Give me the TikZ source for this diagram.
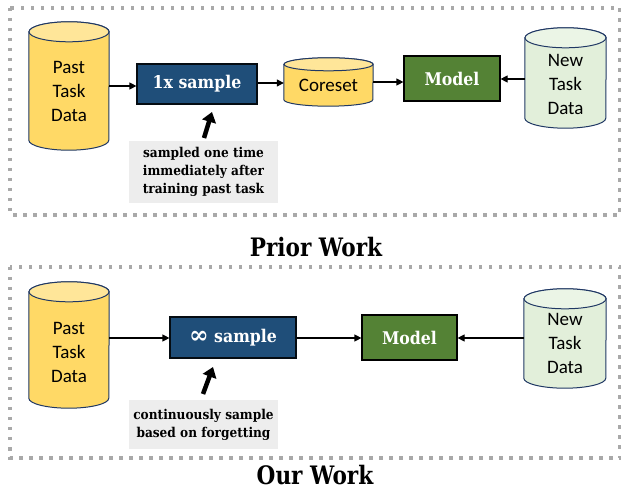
\documentclass[tikz,border=0pt]{standalone}
\usepackage{fontspec}
\setmainfont{Carlito}
\newfontfamily\sbf{DejaVu Serif}[FakeStretch=0.9]
\newfontfamily\tbf{DejaVu Serif}[FakeStretch=0.85]
\usetikzlibrary{arrows.meta}
\definecolor{ybody}{HTML}{FFD966}
\definecolor{ytop}{HTML}{FFE699}
\definecolor{cylborder}{HTML}{203864}
\definecolor{gbody}{HTML}{E2EFDA}
\definecolor{gtop}{HTML}{EBF5E6}
\definecolor{bluebox}{HTML}{1F4E79}
\definecolor{greenbox}{HTML}{548235}
\definecolor{dotgray}{HTML}{A9A9A9}
\definecolor{labelbg}{HTML}{EDEDED}
\newcommand\dbcyl[5]{% name, half width, ry, body, top
  \path[fill=#4, draw=cylborder, line width=1pt]
    ([yshift=-#3]#1.north west) -- ([yshift=#3]#1.south west)
    arc[start angle=180, end angle=360, x radius=#2, y radius=#3]
    -- ([yshift=-#3]#1.north east)
    arc[start angle=0, end angle=180, x radius=#2, y radius=#3] -- cycle;
  \path[fill=#5, draw=cylborder, line width=1pt]
    ([yshift=-#3]#1.north) ellipse[x radius=#2, y radius=#3];
}
\tikzset{
  x=1pt, y=1pt,
  cylbox/.style={inner sep=0pt, minimum width=#1},
  cyltext/.style={align=center, font=\fontsize{19}{24}\selectfont, inner sep=0pt},
  samplebox/.style={draw=black!85!bluebox, line width=1.2pt, fill=bluebox, text=white, font=\sbf\bfseries\fontsize{17.5}{20}\selectfont, inner sep=0pt},
  modelbox/.style={draw=black, line width=1.2pt, fill=greenbox, text=white, font=\sbf\bfseries\fontsize{17.5}{20}\selectfont, inner sep=0pt},
  labelbox/.style={fill=labelbg, align=center, inner sep=0pt, font=\sbf\bfseries\fontsize{13.5}{18}\selectfont},
  title/.style={font=\tbf\bfseries\fontsize{25.4}{28}\selectfont, inner sep=0pt, anchor=base},
  dotframe/.style={draw=dotgray, line width=3.5pt, dash pattern=on 3.5pt off 6.5pt},
  conn/.style={-{Triangle[length=7pt,width=7pt]}, line width=1.2pt},
  bigarrow/.style={-{Triangle[length=10pt,width=14pt]}, line width=4.5pt},
}
\begin{document}
\begin{tikzpicture}
\useasboundingbox (0,0) rectangle (621,490);
% frames
\draw[dotframe] (10,482) rectangle (620,275);
\draw[dotframe] (10,223) rectangle (620,32);

% ---------- Prior Work ----------
\node[cylbox=80pt, minimum height=128pt] (past1) at (69,404) {};
\dbcyl{past1}{40pt}{10pt}{ybody}{ytop}
\node[cyltext] (past1t) at (69,398.5) {Past\\Task\\Data};

\node[samplebox, minimum width=120pt, minimum height=40pt] (s1) at (197,406) {1x sample};

\node[cylbox=89pt, minimum height=48pt] (core) at (328.5,408) {};
\dbcyl{core}{44.5pt}{6.5pt}{ybody}{ytop}
\node[cyltext] (coret) at (328.5,405) {Coreset};

\node[modelbox, minimum width=96pt, minimum height=45pt] (m1) at (452,411.5) {Model};

\node[cylbox=81pt, minimum height=100pt] (new1) at (565.5,412) {};
\dbcyl{new1}{40.5pt}{10pt}{gbody}{gtop}
\node[cyltext] (new1t) at (565.5,406) {New\\Task\\Data};

\draw[conn] (past1.east |- 0,404) -- (s1.west |- 0,404);
\draw[conn] (s1.east |- 0,407) -- (core.west |- 0,407);
\draw[conn] (core.east |- 0,408) -- (m1.west |- 0,408);
\draw[conn] (new1.west |- 0,411) -- (m1.east |- 0,411);

\node[labelbox, minimum width=149pt, minimum height=62pt] (l1) at (203.5,318)
  {sampled one time\\immediately after\\training past task};
\coordinate (a1t) at (204,352);
\coordinate (a1h) at (212,378);
\draw[bigarrow] (a1t) -- (a1h);

\node[title] (t1) at (316,233) {Prior Work};

% ---------- Our Work ----------
\node[cylbox=80pt, minimum height=126pt] (past2) at (69,145) {};
\dbcyl{past2}{40pt}{10pt}{ybody}{ytop}
\node[cyltext] (past2t) at (69,138) {Past\\Task\\Data};

\node[samplebox, minimum width=126pt, minimum height=41pt] (s2) at (233,152.5)
  {\raisebox{-1.5pt}{\scalebox{1.5}[1.4]{∞}} sample};

\node[modelbox, minimum width=95pt, minimum height=45pt] (m2) at (409.5,152.5) {Model};

\node[cylbox=82pt, minimum height=99pt] (new2) at (565,151.5) {};
\dbcyl{new2}{41pt}{10pt}{gbody}{gtop}
\node[cyltext] (new2t) at (565,147) {New\\Task\\Data};

\draw[conn] (past2.east |- 0,152) -- (s2.west |- 0,152);
\draw[conn] (s2.east |- 0,152) -- (m2.west |- 0,152);
\draw[conn] (new2.west |- 0,152) -- (m2.east |- 0,152);

\node[labelbox, minimum width=149pt, minimum height=49pt] (l2) at (203.5,65.5)
  {continuously sample\\based on forgetting};
\coordinate (a2t) at (203,96);
\coordinate (a2h) at (213,123);
\draw[bigarrow] (a2t) -- (a2h);

\node[title] (t2) at (315,5.5) {Our Work};
\end{tikzpicture}
\end{document}
